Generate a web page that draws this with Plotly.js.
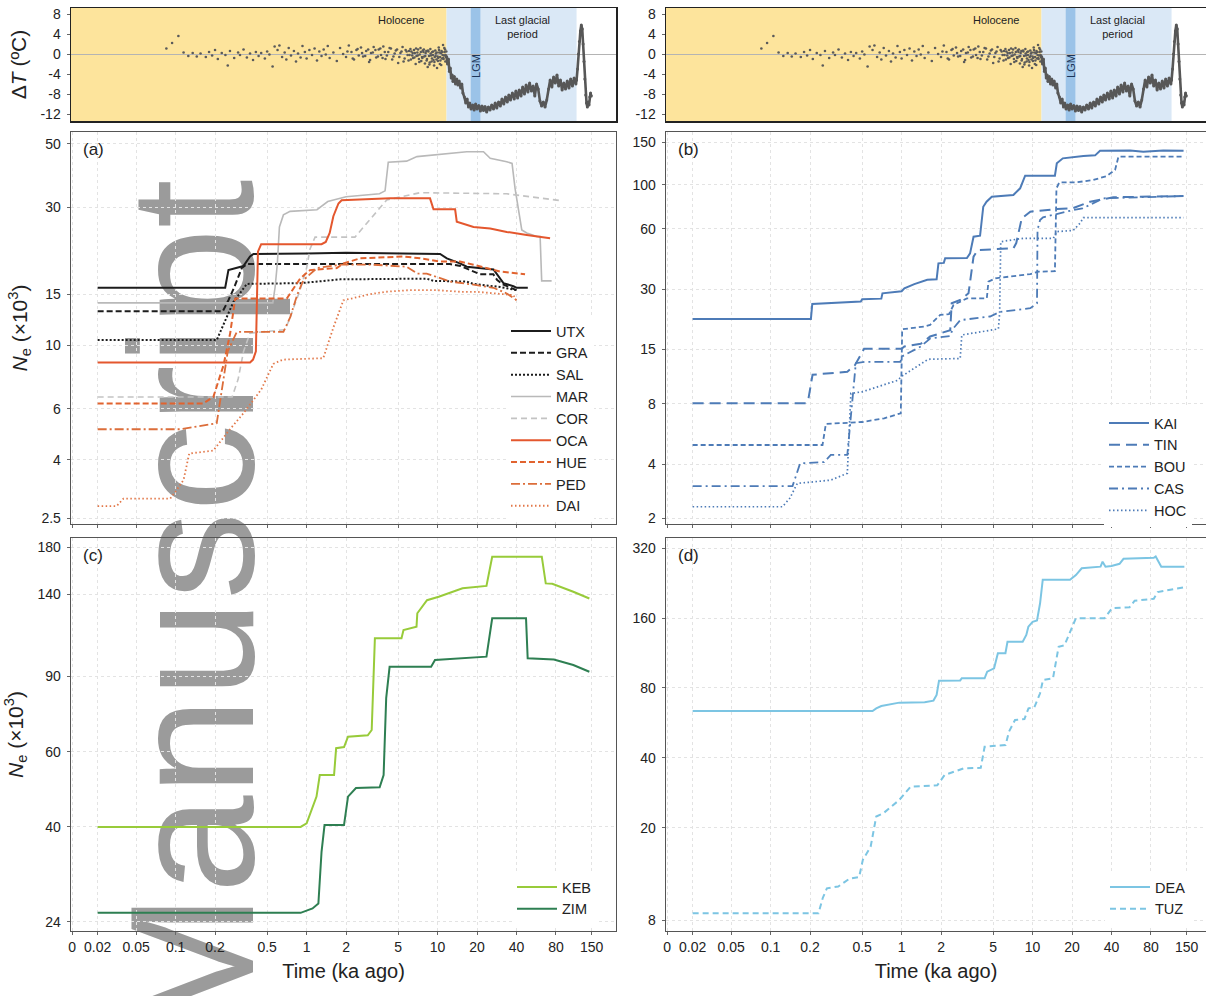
<!DOCTYPE html>
<html>
<head>
<meta charset="utf-8">
<script src="https://cdn.plot.ly/plotly-3.0.1.min.js"></script>
<style>
  html, body { margin:0; padding:0; background:#ffffff; width:1206px; height:996px; overflow:hidden; }
  #wm { position:absolute; left:104px; top:1040px; transform-origin:0 0; transform:rotate(-90deg);
        font-family:"Liberation Sans", Arial, sans-serif; font-size:176px; line-height:1; color:#9b9b9b;
        white-space:nowrap; z-index:0; }
  #chart { position:absolute; left:0; top:0; width:1206px; height:996px; z-index:1; }
</style>
</head>
<body>
<div id="wm">Manuscript</div>
<div id="chart"></div>
<script>
// ---------------- DATA ----------------
// time axis tick values (ka ago) and labels
const xTickVals = [0.0162, 0.0254, 0.05, 0.1, 0.2, 0.5, 1, 2, 5, 10, 20, 40, 80, 150];
const xTickText = ["0", "0.02", "0.05", "0.1", "0.2", "0.5", "1", "2", "5", "10", "20", "40", "80", "150"];

// temperature anomaly (°C) – Holocene scatter
const holoT = [0.085,0.094,0.105,0.115,0.125,0.135,0.145,0.155,0.17,0.18,0.19,0.2,0.21,0.225,0.24,0.25,0.26,0.28,0.3,0.31,0.33,0.35,0.37,0.39,0.41,0.43,0.45,0.48,0.5,0.52,0.55,0.57,0.6,0.62,0.65,0.68,0.7,0.73,0.76,0.8,0.83,0.86,0.9,0.93,0.97,1.0,1.05,1.1,1.15,1.2,1.25,1.3,1.35,1.4,1.45,1.5,1.6,1.7,1.8,1.9,2.0,2.1,2.2,2.3,2.4,2.5,2.6,2.7,2.85,3.0,3.1,3.25,3.4,3.55,3.7,3.85,4.0,4.2,4.4,4.6,4.8,5.0,5.2,5.4,5.6,5.8,6.0,6.1,6.2,6.3,6.4,6.5,6.6,6.7,6.8,6.9,7.0,7.1,7.2,7.3,7.4,7.5,7.6,7.7,7.8,7.9,8.0,8.1,8.2,8.3,8.4,8.5,8.6,8.7,8.8,8.9,9.0,9.1,9.2,9.3,9.4,9.5,9.6,9.7,9.8,9.9,10.0,10.1,10.2,10.3,10.4,10.5,10.6,10.7,10.8,10.9,11.0,11.1,11.2,11.3,11.4,11.5,11.6];
const holoDT = [1.1,2.2,3.6,0.3,-0.4,0.2,-0.5,0.1,-0.6,0.4,-0.3,0.8,-1.0,0.2,-0.2,-2.3,0.6,-0.8,0.3,-0.2,0.9,-0.7,0.1,-1.2,0.4,-0.4,0.2,-0.9,0.5,-0.1,-2.5,1.5,0.8,1.7,-0.6,0.3,-1.1,1.2,-0.3,0.6,-1.5,0.1,-0.7,1.6,0.4,-0.9,0.8,-0.2,1.1,-1.3,0.5,-0.4,0.9,-0.1,1.6,-0.8,0.3,-1.4,1.2,0.0,-0.6,1.7,0.4,-1.1,0.8,-0.3,1.3,-0.5,0.6,-1.6,0.2,1.4,-0.7,0.9,-0.2,1.5,-1.0,0.4,1.1,-0.5,0.7,-1.8,0.2,1.4,-0.9,0.5,-1.3,-0.2,1.0,0.5,-0.3,-0.8,0.8,0.2,-2.0,-0.4,0.3,0.9,-1.0,-0.1,1.2,-1.4,-0.6,0.7,0.4,-0.5,-1.9,0.2,0.6,-1.0,-2.6,0.5,-0.4,-1.7,1.0,-0.3,-1.5,0.4,-0.2,-1.2,-2.3,-0.6,0.7,0.1,-1.1,-2.8,-0.5,-0.8,1.3,0.3,-2.0,-1.3,0.2,0.6,-0.9,-0.2,1.8,-1.0,-0.3,0.4,0.9,-0.2,-0.6];
const holoT2 = [2.05,2.25,2.45,2.65,2.8,2.95,3.05,3.2,3.35,3.5,3.65,3.8,3.95,4.1,4.3,4.5,4.7,4.9,5.1,5.3,5.5,5.7,5.9,6.05,6.25,6.45,6.65,6.85,7.05,7.25,7.45,7.65,7.85,8.05,8.25,8.45,8.65,8.85,9.05,9.25,9.45,9.65,9.85,10.05,10.25,10.45,10.65,10.85,11.05,11.25,11.45,11.65];
const holoDT2 = [0.5,-0.9,1.0,0.2,-0.4,0.9,-1.2,0.3,0.8,-0.5,1.1,-0.8,0.4,-0.3,1.2,-1.1,0.1,0.9,-0.6,0.5,-1.5,0.8,-0.2,0.6,-1.1,0.2,-0.7,1.1,-0.3,-1.6,0.4,-0.8,0.9,-0.4,-1.3,0.7,-2.1,0.1,-0.9,0.5,-1.6,-0.4,0.3,-1.4,0.8,-0.6,-2.2,0.4,-0.8,1.2,-1.5,0.5];
// temperature anomaly – deglacial / last glacial / Eemian band
const glacT = [11.7,11.9,12.1,12.3,12.5,12.7,12.9,13.1,13.4,13.7,14.0,14.3,14.6,15.0,15.3,15.6,16.0,16.4,16.8,17.2,17.6,18.0,18.5,19.0,19.5,20.0,20.6,21.2,21.8,22.4,23.0,23.7,24.4,25.1,25.9,26.7,27.5,28.3,29.2,30.1,31.0,32.0,33.0,34.0,35.0,36.0,37.2,38.4,39.6,40.8,42.0,43.3,44.6,46.0,47.4,48.9,50.4,52.0,53.6,55.2,56.9,58.6,60.4,62.2,64.1,66.1,68.1,70.2,72.3,74.5,76.8,79.1,81.5,84.0,86.6,89.2,91.9,94.7,97.6,100.6,103.7,106.9,110.2,113.6,115.0,117.0,119.0,121.0,123.0,125.0,127.0,129.0,131.0,133.0,135.0,137.0,139.0,141.0,143.0,145.0,147.0,149.0];
const glacDT = [-0.5,-2.0,-1.0,-3.5,-2.8,-4.8,-4.2,-5.5,-4.5,-6.0,-5.0,-6.2,-5.4,-6.8,-6.0,-7.8,-8.6,-9.8,-9.0,-10.6,-9.8,-11.0,-10.2,-11.2,-10.0,-11.0,-10.3,-11.4,-10.4,-11.3,-10.5,-11.6,-10.6,-11.2,-10.2,-11.0,-9.8,-10.8,-9.6,-10.4,-9.0,-10.0,-8.6,-9.6,-8.2,-9.2,-7.8,-9.0,-7.4,-8.8,-7.2,-8.4,-6.6,-8.0,-6.2,-7.6,-5.8,-7.4,-6.4,-8.4,-6.0,-7.0,-9.4,-10.4,-9.6,-10.6,-9.2,-7.0,-5.2,-6.6,-4.6,-5.8,-4.2,-6.4,-5.2,-7.2,-5.8,-7.0,-5.4,-6.8,-5.0,-6.4,-4.8,-6.0,-5.2,-3.0,0.0,2.5,4.6,5.8,5.0,2.0,-1.5,-5.0,-8.2,-9.8,-10.6,-9.6,-10.2,-8.6,-7.8,-8.4];

// panel (a)  Ne (x10^3)
const utxT = [0.0254,0.239,0.253,0.293,0.329,0.37,0.393,1.0,2.0,10.45,11.76,14.8,16.7,26.7,29.1,31.8,37.9,40.2,48.8];
const utxN = [15.8,15.8,18.2,18.5,18.8,20.3,20.7,20.8,20.9,20.7,20.0,19.2,18.7,18.3,17.3,16.4,16.0,15.8,15.8];
const graT = [0.0254,0.229,0.253,0.284,0.32,0.35,12.4,15,21.1,26.6,28.5,31.8,40];
const graN = [13.1,13.1,14.3,16.1,18.5,19.1,19.1,18.8,17.6,17.6,16.8,16.2,15.5];
const salT = [0.0254,0.206,0.24,0.276,0.35,0.9,1.8,8.25,9.3,16.7,18.7,30,40];
const salN = [10.4,10.4,12.2,14.1,16.3,16.4,16.9,17.0,16.7,16.6,16.3,15.9,15.5];
const marT = [0.0254,0.552,0.575,0.598,0.62,0.665,0.748,1.0,1.2,1.45,1.7,2.0,3.6,3.97,4.2,5.8,6.95,10.45,16.7,22.4,25.2,33.7,37.0,39.0,43.9,47.9,57.2,60.6,62.3,74.2];
const marN = [14.0,14.0,15.9,19.2,25.7,28.3,29.1,29.3,29.5,31.5,32.0,32.7,33.5,34.3,43.1,43.5,45.1,46.0,46.9,46.9,44.5,43.3,42.7,35,25.1,24.5,23.8,23.8,16.7,16.7];
const corT = [0.0254,0.27,0.30,0.33,0.37,0.62,0.686,0.75,0.89,1.0,1.06,1.16,2.34,4.09,7.35,33.7,60.6,88.6];
const corN = [6.6,6.6,7.6,9.5,11.0,11.3,11.3,12.5,15.5,18.5,21.5,23.7,23.7,31.9,33.8,33.5,32.5,31.7];
const ocaT = [0.0254,0.37,0.39,0.41,0.425,0.45,1.30,1.40,1.5,1.6,1.75,1.85,4.34,8.75,9.3,13.6,14.0,18.8,25.2,33.7,47.9,57.2,72.2];
const ocaN = [8.7,8.7,8.9,9.5,21.1,22.4,22.4,22.8,24.5,28,31,31.8,32.3,32.3,29.6,29.6,26.8,25.7,25.4,24.7,24.1,23.8,23.5];
const hueT = [0.0254,0.163,0.194,0.232,0.261,0.285,0.706,0.892,1.06,1.70,1.91,2.56,5.48,7.35,10.45,14.8,18.8,23.7,29.9,46.5];
const hueN = [6.27,6.27,6.6,8.5,11.0,14.5,14.5,17.0,18.2,18.5,19.2,20.0,20.3,20.0,19.5,19.5,19.0,18.5,18.0,17.6];
const pedT = [0.0254,0.108,0.206,0.225,0.25,0.293,0.665,0.75,0.85,0.945,1.2,1.81,3.24,5.8,7.0,8.25,12.5,18.8,26.7,33.7,40.2];
const pedN = [5.1,5.1,5.35,7.0,9.5,11.1,11.1,12.5,15.0,16.8,18.5,19.0,19.0,18.7,17.7,17.7,16.6,16.2,15.8,15.1,14.3];
const daiT = [0.0254,0.0355,0.04,0.091,0.1,0.115,0.127,0.194,0.26,0.33,0.45,0.557,0.66,1.34,1.6,1.91,2.2,3.0,4.0,6.0,10,15,20,30,38,40.2];
const daiN = [2.76,2.76,2.93,2.93,3.1,3.4,4.2,4.3,5.1,5.8,7.0,8.6,8.9,9.0,11.5,14.3,14.5,15.0,15.3,15.5,15.5,15.3,15.3,15.1,14.9,14.1];

// panel (b)
const kaiT = [0.0254,0.203,0.208,0.488,0.5,0.70,0.714,1.0,1.05,1.25,1.57,1.65,1.85,1.91,2.1,2.15,3.15,3.33,3.54,3.97,4.2,4.45,4.88,7.13,8.03,8.77,14.8,15.3,17,24.4,30,32.7,55.6,70,99.3,142];
const kaiN = [21.3,21.3,25.3,26.0,26.7,26.9,28.6,29.3,30.3,31.8,33.4,33.4,33.6,40.4,40.6,42.8,42.9,45.3,54.9,55.5,77.5,82.1,87.0,88.7,95.8,110.8,110.8,127.8,135.3,138.8,140,147.7,148,146,148,147.5];
const tinT = [0.0254,0.186,0.195,0.209,0.385,0.44,0.517,1.0,1.05,1.4,1.65,2.35,2.41,2.8,3.24,3.54,3.8,7.13,7.5,8.26,9.6,15.3,20,27.5,41.3,99.3,142];
const tinN = [8.06,8.06,8.6,11.2,11.6,12.5,15.1,15.1,15.5,16.0,17.4,18.7,25.5,26.5,28.6,43.6,47.1,48.0,51,67.8,73.2,75.5,76,82.1,86.4,87.7,87.7];
const bouT = [0.0254,0.249,0.264,0.41,0.5,0.735,0.986,1.01,1.48,1.65,1.97,2.3,2.49,3.15,4.47,4.6,5.2,9.6,11.1,14.8,15.2,16,21.8,29.0,36.8,42.6,45.2,142];
const bouN = [4.99,4.99,6.36,6.45,6.5,6.78,7.19,18.9,19.5,19.9,22.3,22.5,25.0,27.0,27.0,32.7,34.0,35.7,36.7,36.9,95.8,102.7,102.7,105.4,110.4,118.3,137.9,137.9];
const casT = [0.0254,0.147,0.168,0.256,0.288,0.385,0.447,0.52,0.98,1.0,1.4,1.65,2.35,2.45,2.80,4.73,5.64,9.6,10.8,10.9,11.4,12,20.4,24,34.7,55,142];
const casN = [3.11,3.11,4.04,4.1,4.45,4.45,12.8,13.0,13.0,13.8,15.5,17.0,17.5,18.9,21.0,21.9,23.1,24.1,25.5,59.3,66.5,68.6,74.6,76,85.4,86,87.7];
const hocT = [0.0254,0.123,0.14,0.16,0.2,0.288,0.385,0.41,0.5,0.93,1.0,1.57,1.65,2.35,2.80,2.88,3.97,5.48,5.6,5.71,6.5,8.5,14.4,15.3,20.4,23.0,24.4,142];
const hocN = [2.45,2.45,2.7,3.21,3.25,3.33,3.6,9.04,9.2,10.5,11.0,13.3,13.4,13.4,13.5,17.7,18.4,19.0,22.7,51.8,52.5,53.9,53.9,58.2,59,64.1,68.3,68.3];

// panel (c)
const kebT = [0.0254,0.90,1.0,1.07,1.19,1.26,1.62,1.68,1.93,2.07,2.93,3.14,3.32,5.3,5.49,6.9,7.0,8.3,10.2,15.5,23.6,26.1,62.4,66.9,75,108.6,144];
const kebN = [40.0,40.0,40.8,43.0,47.1,52.9,52.9,61.1,61.5,65.0,65.5,67.4,110.4,110.4,115.4,117.5,126.3,135.5,138.0,144.4,146.3,171.2,171.2,148.3,148,141.8,136.7];
const zimT = [0.0254,0.90,1.11,1.23,1.30,1.37,1.93,2.07,2.38,3.61,3.87,4.05,4.30,8.92,9.55,23.6,26.1,47.3,48.7,77.2,108.6,144];
const zimN = [25.2,25.2,25.8,26.5,35,40.4,40.4,47.1,49.3,49.5,52.9,80,94.7,94.7,98.2,100.0,122.9,122.9,99.1,98.5,95.6,92.2];

// panel (d)
const deaT = [0.0254,0.60,0.64,0.7,0.96,1.5,1.75,1.85,1.93,2.8,2.88,4.30,4.5,5.08,5.43,6.2,6.43,8.4,8.95,9.28,10.0,10.8,11.4,11.95,19.3,21.4,23.7,33.0,34.2,36,40,46.1,49.4,84.1,87,96,144];
const deaN = [63.7,63.7,65.4,66.9,69.2,69.5,70.6,74.7,86.0,86.2,88.1,88.1,94.0,97.2,112.8,112.8,126.5,126.5,135.2,146.8,154.1,156,185.1,233.7,233.7,244.7,261.8,266.1,279.4,266,268,273.7,287.6,290.5,294.4,266.1,266.1];
const tuzT = [0.0254,0.232,0.25,0.269,0.328,0.40,0.474,0.506,0.58,0.64,0.73,0.96,1.17,1.87,2.13,2.98,4.02,4.30,6.22,6.6,7.34,8.66,9.3,10.3,11.4,12.0,14.3,15.8,17.5,21.4,35.4,40.3,55,60.1,84.1,90,144];
const tuzN = [8.59,8.59,10.0,11.0,11.2,12.1,12.3,14.6,16.6,22.4,23.2,26.4,30.1,30.5,33.8,36.1,36.3,44.7,45.5,51.9,58.3,58.8,65.4,66,75.9,86.6,88,120.4,122,159.6,159.6,176.2,178,190.0,193.6,206.7,217.2];

// y tick values / labels
const aTicks = [2.5, 4, 6, 10, 15, 30, 50];
const bTickVals = [2.15, 4, 8, 15, 30, 60, 100, 163];
const bTickText = ["2", "4", "8", "15", "30", "60", "100", "150"];
const cTicks = [24, 40, 60, 90, 140, 180];
const dTicks = [8, 20, 40, 80, 160, 320];
const tTicks = [-12, -8, -4, 0, 4, 8];

// climate periods (ka)
const holoceneEnd = 11.7, glacialEnd = 115, lgmStart = 17.9, lgmEnd = 21.2;

// ---------------- STYLE / LAYOUT ----------------
const FONT = '"Liberation Sans", Arial, sans-serif';
const W = 1206, H = 996;
const px = v => v / W, py = v => 1 - v / H;
const domL = [px(71), px(616)], domR = [px(666), 1];
const domT = [py(121), py(8)], domM = [py(524), py(132)], domB = [py(931), py(538)];
const x0log = Math.log10(0.0159);
const xRangeL = [x0log, x0log + 545 / 131];
const xRangeR = [x0log, x0log + 540 / 131];

const BLACK = '#1c1c1c', GREY1 = '#b9b9b9', GREY2 = '#c3c3c3';
const ORA = '#e4572e', ORA2 = '#e1632f', ORA3 = '#dc6d3a', ORA4 = '#e27748';
const BLUE = '#4d7bb7', KEBC = '#98cb3a', ZIMC = '#2e7f52', DEAC = '#7cc5e3';

function ln(name, x, y, xa, ya, color, dash, width, legend) {
  return { type: 'scatter', mode: 'lines', name: name, x: x, y: y, xaxis: xa, yaxis: ya,
    line: { color: color, dash: dash, width: width }, legend: legend,
    hoverinfo: 'skip' };
}

const traces = [];
['x', 'x2'].forEach((xa, i) => {
  const ya = i === 0 ? 'y' : 'y2';
  traces.push({ type: 'scatter', mode: 'markers', x: holoT, y: holoDT, xaxis: xa, yaxis: ya,
    marker: { size: 2.6, color: '#5a5a5a' }, showlegend: false, hoverinfo: 'skip' });
  traces.push({ type: 'scatter', mode: 'markers', x: holoT2, y: holoDT2, xaxis: xa, yaxis: ya,
    marker: { size: 2.6, color: '#5a5a5a' }, showlegend: false, hoverinfo: 'skip' });
  traces.push({ type: 'scatter', mode: 'lines+markers', x: glacT, y: glacDT, xaxis: xa, yaxis: ya,
    line: { color: '#575757', width: 2.6 }, marker: { size: 3, color: '#575757' }, showlegend: false, hoverinfo: 'skip' });
});

traces.push(ln('UTX', utxT, utxN, 'x3', 'y3', BLACK, 'solid', 2, 'legend'));
traces.push(ln('GRA', graT, graN, 'x3', 'y3', BLACK, '6px,3px', 2, 'legend'));
traces.push(ln('SAL', salT, salN, 'x3', 'y3', BLACK, '2px,2px', 2, 'legend'));
traces.push(ln('MAR', marT, marN, 'x3', 'y3', GREY1, 'solid', 1.6, 'legend'));
traces.push(ln('COR', corT, corN, 'x3', 'y3', GREY2, '6px,4px', 1.6, 'legend'));
traces.push(ln('OCA', ocaT, ocaN, 'x3', 'y3', ORA, 'solid', 2, 'legend'));
traces.push(ln('HUE', hueT, hueN, 'x3', 'y3', ORA2, '6px,3px', 2, 'legend'));
traces.push(ln('PED', pedT, pedN, 'x3', 'y3', ORA3, '9px,3px,2px,3px', 1.8, 'legend'));
traces.push(ln('DAI', daiT, daiN, 'x3', 'y3', ORA4, '1.5px,2.5px', 1.8, 'legend'));

traces.push(ln('KAI', kaiT, kaiN, 'x4', 'y4', BLUE, 'solid', 2, 'legend2'));
traces.push(ln('TIN', tinT, tinN, 'x4', 'y4', BLUE, '11px,6px', 2, 'legend2'));
traces.push(ln('BOU', bouT, bouN, 'x4', 'y4', BLUE, '5px,3px', 1.8, 'legend2'));
traces.push(ln('CAS', casT, casN, 'x4', 'y4', BLUE, '9px,4px,2px,4px', 1.8, 'legend2'));
traces.push(ln('HOC', hocT, hocN, 'x4', 'y4', BLUE, '1.5px,2.5px', 1.7, 'legend2'));

traces.push(ln('KEB', kebT, kebN, 'x5', 'y5', KEBC, 'solid', 2, 'legend3'));
traces.push(ln('ZIM', zimT, zimN, 'x5', 'y5', ZIMC, 'solid', 2, 'legend3'));

traces.push(ln('DEA', deaT, deaN, 'x6', 'y6', DEAC, 'solid', 2, 'legend4'));
traces.push(ln('TUZ', tuzT, tuzN, 'x6', 'y6', DEAC, '6px,4px', 2, 'legend4'));

const tickFont = { family: FONT, size: 14, color: '#222' };
function xAx(dom, range, anchor, labels, ticks) {
  return { domain: dom, range: range, type: 'log', anchor: anchor,
    tickvals: xTickVals, ticktext: xTickText, showticklabels: labels, tickfont: tickFont,
    ticks: ticks ? 'outside' : '', ticklen: 3, tickcolor: '#666',
    showgrid: ticks, gridcolor: '#e3e3e3', griddash: 'dot', gridwidth: 1,
    showline: true, mirror: true, linecolor: ticks ? '#555' : '#222', linewidth: ticks ? 1.3 : 1.5,
    zeroline: false, automargin: false, fixedrange: true };
}
function yAx(dom, range, anchor, vals, text, type, title) {
  const o = { domain: dom, range: range, type: type, anchor: anchor,
    tickvals: vals, ticktext: text, tickfont: tickFont, ticks: 'outside', ticklen: 3, tickcolor: '#666',
    ticklabelstandoff: 3,
    showgrid: type === 'log', gridcolor: '#e3e3e3', griddash: 'dot', gridwidth: 1,
    showline: true, mirror: true, linecolor: type === 'log' ? '#555' : '#222', linewidth: type === 'log' ? 1.3 : 1.5,
    zeroline: type !== 'log', zerolinecolor: '#b4b4b4', zerolinewidth: 1,
    automargin: false, fixedrange: true };
  if (title) o.title = { text: title, font: { family: FONT, size: 21, color: '#222' }, standoff: 8 };
  return o;
}
const NeTitle = '<i>N</i><sub>e</sub> (×10<sup>3</sup>)';
const tStr = tTicks.map(String);

function bands(xa, ya) {
  const yr = ya + ' domain';
  return [
    { type: 'rect', xref: xa, yref: yr, x0: 0.001, x1: holoceneEnd, y0: 0, y1: 1, fillcolor: '#fde49c', line: { width: 0 }, layer: 'below' },
    { type: 'rect', xref: xa, yref: yr, x0: holoceneEnd, x1: glacialEnd, y0: 0, y1: 1, fillcolor: '#dae8f6', line: { width: 0 }, layer: 'below' },
    { type: 'rect', xref: xa, yref: yr, x0: lgmStart, x1: lgmEnd, y0: 0, y1: 1, fillcolor: '#9bc3e8', line: { width: 0 }, layer: 'below' }
  ];
}
function periodText(xa, ya) {
  const f = { family: FONT, size: 11, color: '#222' };
  return [
    { xref: xa, yref: ya, x: Math.log10(5.25), y: 6.8, text: 'Holocene', showarrow: false, font: f },
    { xref: xa, yref: ya, x: Math.log10(44.7), y: 5.3, text: 'Last glacial<br>period', showarrow: false, font: f },
    { xref: xa, yref: ya, x: Math.log10(19.6), y: -2.4, text: 'LGM', textangle: -90, showarrow: false,
      font: { family: FONT, size: 11, color: '#1d3557' } }
  ];
}
function panelLabel(xa, ya, txt) {
  return { xref: xa + ' domain', yref: ya + ' domain', x: 0.018, y: 0.985, xanchor: 'left', yanchor: 'top',
    text: txt, showarrow: false, font: { family: FONT, size: 17, color: '#222' } };
}
function legendBox(x, y) {
  return { x: px(x), y: py(y), xanchor: 'left', yanchor: 'top', bgcolor: '#ffffff', borderwidth: 0,
    font: { family: FONT, size: 14.5, color: '#222' }, tracegroupgap: 0, itemwidth: 40 };
}

const layout = {
  width: W, height: H, margin: { l: 0, r: 0, t: 0, b: 0 },
  paper_bgcolor: 'rgba(0,0,0,0)', plot_bgcolor: 'rgba(0,0,0,0)',
  font: { family: FONT, color: '#222' },
  xaxis: xAx(domL, xRangeL, 'y', false, false),
  yaxis: yAx(domT, [-13.4, 9.2], 'x', tTicks, tStr, 'linear', 'Δ<i>T</i> (ºC)'),
  xaxis2: xAx(domR, xRangeR, 'y2', false, false),
  yaxis2: yAx(domT, [-13.4, 9.2], 'x2', tTicks, tStr, 'linear', null),
  xaxis3: xAx(domL, xRangeL, 'y3', false, true),
  yaxis3: yAx(domM, [0.3785, 1.7396], 'x3', aTicks, aTicks.map(String), 'log', NeTitle),
  xaxis4: xAx(domR, xRangeR, 'y4', false, true),
  yaxis4: yAx(domM, [0.303, 2.263], 'x4', bTickVals, bTickText, 'log', null),
  xaxis5: Object.assign(xAx(domL, xRangeL, 'y5', true, true),
    { title: { text: 'Time (ka ago)', font: { family: FONT, size: 20, color: '#222' }, standoff: 10 } }),
  yaxis5: yAx(domB, [1.359, 2.2772], 'x5', cTicks, cTicks.map(String), 'log', NeTitle),
  xaxis6: Object.assign(xAx(domR, xRangeR, 'y6', true, true),
    { title: { text: 'Time (ka ago)', font: { family: FONT, size: 20, color: '#222' }, standoff: 10 } }),
  yaxis6: yAx(domB, [0.8579, 2.5482], 'x6', dTicks, dTicks.map(String), 'log', null),
  shapes: bands('x', 'y').concat(bands('x2', 'y2')),
  annotations: periodText('x', 'y').concat(periodText('x2', 'y2'),
    [panelLabel('x3', 'y3', '(a)'), panelLabel('x4', 'y4', '(b)'), panelLabel('x5', 'y5', '(c)'), panelLabel('x6', 'y6', '(d)')]),
  legend: legendBox(506, 315),
  legend2: legendBox(1104, 407),
  legend3: legendBox(512, 871),
  legend4: legendBox(1105, 871),
  showlegend: true
};

Plotly.newPlot('chart', traces, layout, { staticPlot: true, displayModeBar: false });
</script>
</body>
</html>
